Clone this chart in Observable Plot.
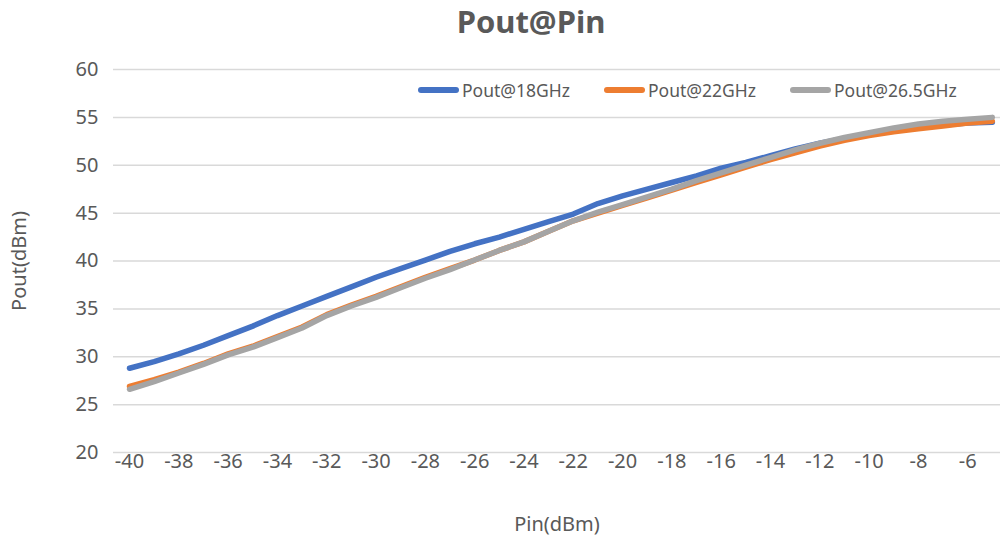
<!DOCTYPE html>
<html>
<head>
<meta charset="utf-8">
<script src="https://cdn.jsdelivr.net/npm/d3@7"></script>
<script src="https://cdn.jsdelivr.net/npm/@observablehq/plot@0.6"></script>
<style>
  html, body { margin: 0; padding: 0; background: #fff; }
  #wrap { position: relative; width: 1002px; height: 542px; font-family: "Noto Sans", sans-serif; }
  #title { height: 44px; line-height: 42px; text-align: center; padding-left: 60px; box-sizing: border-box; width: 1002px;
           font-size: 31px; font-weight: bold; color: #595959; }
  #legend { position: absolute; top: 78px; left: 418px; display: flex; font-size: 17.5px; color: #595959; }
  .item { display: flex; align-items: center; margin-right: 34px; }
  .swatch { width: 41px; height: 5.5px; border-radius: 3px; margin-right: 3px; }
</style>
</head>
<body>
<div id="wrap">
  <div id="title">Pout@Pin</div>
  <div id="chart"></div>
  <div id="legend"></div>
</div>
<script>
const pin = [-40,-39,-38,-37,-36,-35,-34,-33,-32,-31,-30,-29,-28,-27,-26,-25,-24,-23,-22,-21,-20,-19,-18,-17,-16,-15,-14,-13,-12,-11,-10,-9,-8,-7,-6,-5];
const pout18 = [28.8,29.5,30.3,31.2,32.2,33.2,34.3,35.3,36.3,37.3,38.3,39.2,40.1,41.0,41.8,42.5,43.3,44.1,44.9,46.0,46.8,47.5,48.2,48.9,49.7,50.3,51.0,51.7,52.3,52.8,53.3,53.7,54.0,54.2,54.4,54.5];
const pout22 = [26.9,27.6,28.4,29.3,30.3,31.1,32.1,33.1,34.4,35.4,36.3,37.3,38.3,39.2,40.1,41.1,42.0,43.1,44.2,45.0,45.8,46.6,47.4,48.2,49.0,49.8,50.6,51.3,52.0,52.6,53.1,53.5,53.8,54.1,54.4,54.6];
const pout265 = [26.6,27.4,28.3,29.2,30.2,31.0,32.0,33.0,34.3,35.3,36.2,37.2,38.2,39.1,40.1,41.1,42.0,43.1,44.2,45.1,45.9,46.7,47.5,48.4,49.2,50.0,50.8,51.6,52.3,52.9,53.4,53.9,54.3,54.6,54.8,55.0];
const seriesNames = ["Pout@18GHz", "Pout@22GHz", "Pout@26.5GHz"];
const seriesColors = ["#4472C4", "#ED7D31", "#A5A5A5"];
const xTicks = [-40,-38,-36,-34,-32,-30,-28,-26,-24,-22,-20,-18,-16,-14,-12,-10,-8,-6];
const yTicks = [20,25,30,35,40,45,50,55,60];

const seriesValues = [pout18, pout22, pout265];
const data = [];
seriesValues.forEach((vals, s) => vals.forEach((v, i) => data.push({pin: pin[i], pout: v, series: seriesNames[s]})));

const chart = Plot.plot({
  width: 1002,
  height: 498,
  marginTop: 25,
  marginBottom: 90,
  marginLeft: 113,
  marginRight: 2,
  style: {fontFamily: "Noto Sans, sans-serif", fontSize: "20px", color: "#595959", background: "#fff"},
  x: {domain: [-40.65, -4.67]},
  y: {domain: [20, 60]},
  color: {domain: seriesNames, range: seriesColors},
  marks: [
    Plot.gridY(yTicks, {stroke: "#d9d9d9", strokeOpacity: 1, strokeWidth: 1.5}),
    Plot.axisX(xTicks, {tickSize: 0, tickPadding: 1, tickFormat: d => d, label: "Pin(dBm)", labelAnchor: "center", labelArrow: "none", labelOffset: 78, fill: "#595959"}),
    Plot.axisY(yTicks, {tickSize: 0, tickPadding: 15, label: "Pout(dBm)", labelAnchor: "center", labelArrow: "none", labelOffset: 102, fill: "#595959"}),
    Plot.line(data, {x: "pin", y: "pout", z: "series", stroke: "series", strokeWidth: 5.5, strokeLinecap: "round", strokeLinejoin: "round"})
  ]
});
document.getElementById("chart").appendChild(chart);

const legend = document.getElementById("legend");
seriesNames.forEach((n, i) => {
  const it = document.createElement("div");
  it.className = "item";
  it.innerHTML = `<span class="swatch" style="background:${seriesColors[i]}"></span><span>${n}</span>`;
  legend.appendChild(it);
});
</script>
</body>
</html>
